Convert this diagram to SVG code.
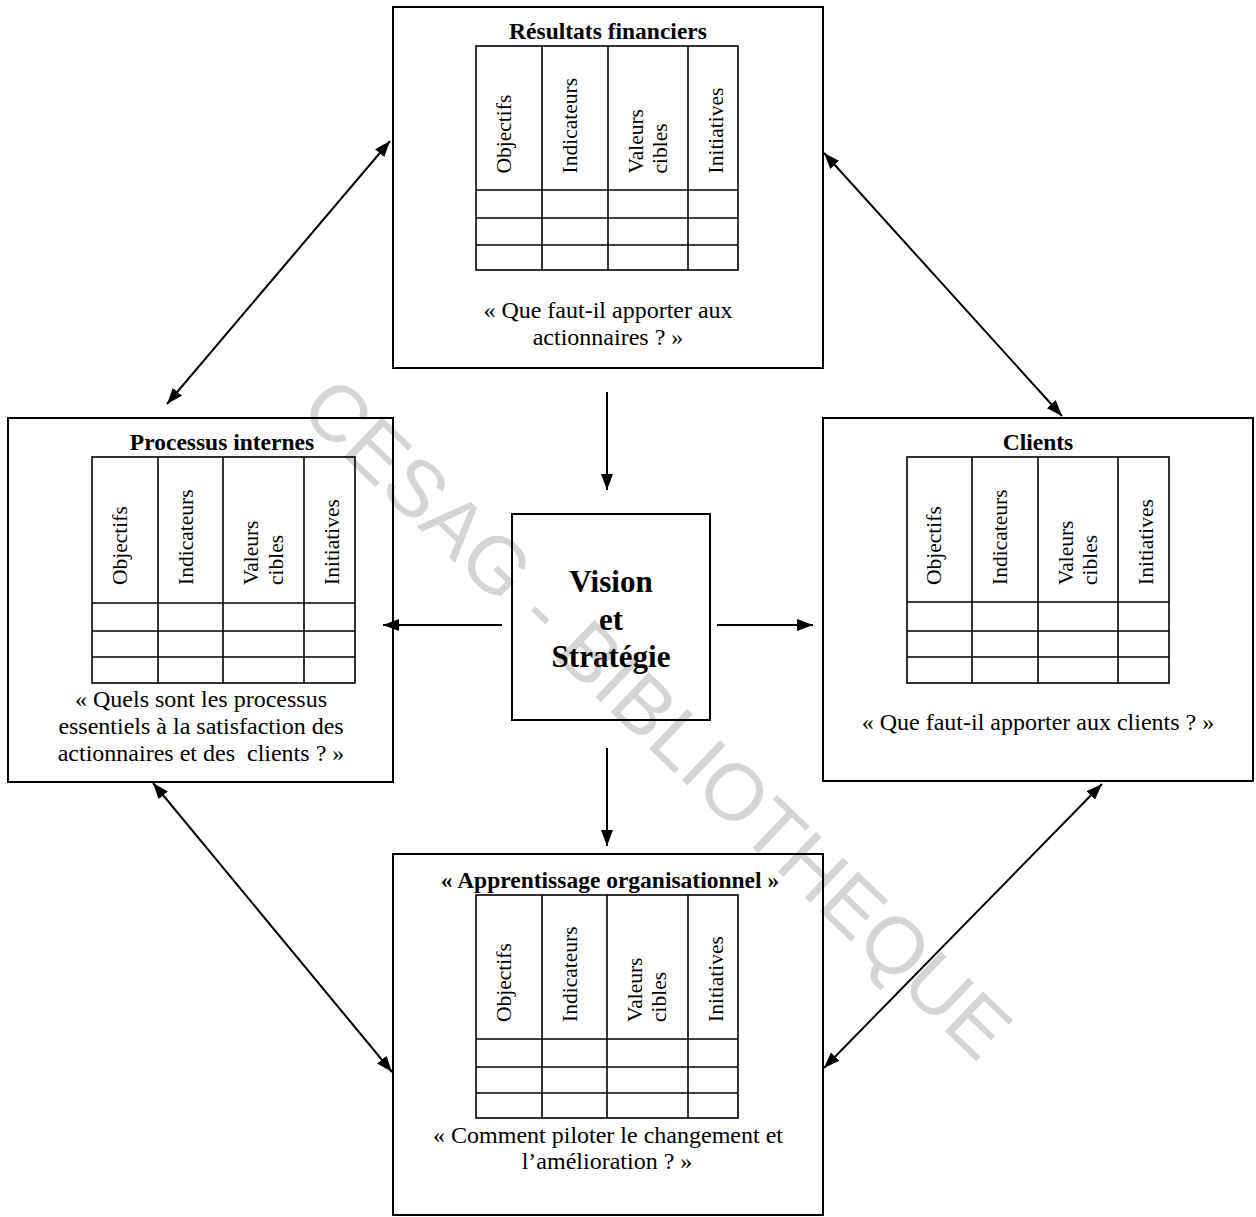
<svg xmlns="http://www.w3.org/2000/svg" width="1256" height="1217" viewBox="0 0 1256 1217">
<style>
.box{fill:none;stroke:#000;stroke-width:2}
.tbl rect,.tbl line{fill:none;stroke:#000;stroke-width:1.6}
.t{font-family:"Liberation Serif","Times New Roman",serif;fill:#000}
.title{font-weight:bold;font-size:23.5px;text-anchor:middle}
.q{font-size:24px;text-anchor:middle}
.lbl{font-size:21.5px}
.vis{font-weight:bold;font-size:31px;text-anchor:middle}
.wm{font-family:"Liberation Sans",Arial,sans-serif;font-size:80px;fill:#d4d4d4}
#connectors line{stroke:#000;stroke-width:2;fill:none}
.one{marker-end:url(#ah)}
.two{marker-start:url(#ah);marker-end:url(#ah)}
</style>
<defs>
<marker id="ah" viewBox="0 0 16 12" refX="16" refY="6" markerWidth="16" markerHeight="12" markerUnits="userSpaceOnUse" orient="auto-start-reverse">
<path d="M0,0 L16,6 L0,12 z" fill="#000"/>
</marker>
</defs>
<rect x="0" y="0" width="1256" height="1217" fill="#fff"/>
<text class="wm" transform="translate(297.5,412.6) rotate(43.7)">CESAG - BIBLIOTHEQUE</text>

<g id="node-financier">
<rect class="box" x="393" y="7" width="430" height="361"/>
<text class="t title" x="608" y="39">Résultats financiers</text>
<g class="tbl" transform="translate(476,46)">
<rect x="0" y="0" width="262" height="224"/>
<line x1="66" y1="0" x2="66" y2="224"/><line x1="132" y1="0" x2="132" y2="224"/><line x1="212" y1="0" x2="212" y2="224"/>
<line x1="0" y1="144" x2="262" y2="144"/><line x1="0" y1="172" x2="262" y2="172"/><line x1="0" y1="199" x2="262" y2="199"/>
<text class="t lbl" transform="translate(34.5,127.5) rotate(-90)">Objectifs</text>
<text class="t lbl" transform="translate(101,127.5) rotate(-90)">Indicateurs</text>
<text class="t lbl" transform="translate(166.5,127.5) rotate(-90)">Valeurs</text>
<text class="t lbl" transform="translate(190.5,127.5) rotate(-90)">cibles</text>
<text class="t lbl" transform="translate(247,127.5) rotate(-90)">Initiatives</text>
</g>
<text class="t q" x="608" y="318">« Que faut-il apporter aux</text>
<text class="t q" x="608" y="345">actionnaires ? »</text>
</g>

<g id="node-processus">
<rect class="box" x="8" y="418" width="385" height="364"/>
<text class="t title" x="222" y="450">Processus internes</text>
<g class="tbl" transform="translate(92,457)">
<rect x="0" y="0" width="263" height="226"/>
<line x1="66" y1="0" x2="66" y2="226"/><line x1="131" y1="0" x2="131" y2="226"/><line x1="212" y1="0" x2="212" y2="226"/>
<line x1="0" y1="146" x2="263" y2="146"/><line x1="0" y1="174" x2="263" y2="174"/><line x1="0" y1="200" x2="263" y2="200"/>
<text class="t lbl" transform="translate(35,128) rotate(-90)">Objectifs</text>
<text class="t lbl" transform="translate(101,128) rotate(-90)">Indicateurs</text>
<text class="t lbl" transform="translate(166,128) rotate(-90)">Valeurs</text>
<text class="t lbl" transform="translate(191,128) rotate(-90)">cibles</text>
<text class="t lbl" transform="translate(247,128) rotate(-90)">Initiatives</text>
</g>
<text class="t q" x="201" y="707">« Quels sont les processus</text>
<text class="t q" x="201" y="734">essentiels à la satisfaction des</text>
<text class="t q" x="201" y="761" xml:space="preserve">actionnaires et des  clients ? »</text>
</g>

<g id="node-clients">
<rect class="box" x="823" y="418" width="430" height="363"/>
<text class="t title" x="1038" y="450">Clients</text>
<g class="tbl" transform="translate(907,457)">
<rect x="0" y="0" width="262" height="226"/>
<line x1="65" y1="0" x2="65" y2="226"/><line x1="131" y1="0" x2="131" y2="226"/><line x1="211" y1="0" x2="211" y2="226"/>
<line x1="0" y1="145" x2="262" y2="145"/><line x1="0" y1="174" x2="262" y2="174"/><line x1="0" y1="200" x2="262" y2="200"/>
<text class="t lbl" transform="translate(34,128) rotate(-90)">Objectifs</text>
<text class="t lbl" transform="translate(100,128) rotate(-90)">Indicateurs</text>
<text class="t lbl" transform="translate(166,128) rotate(-90)">Valeurs</text>
<text class="t lbl" transform="translate(190,128) rotate(-90)">cibles</text>
<text class="t lbl" transform="translate(246,128) rotate(-90)">Initiatives</text>
</g>
<text class="t q" x="1038" y="730">« Que faut-il apporter aux clients ? »</text>
</g>

<g id="node-apprentissage">
<rect class="box" x="393" y="854" width="430" height="361"/>
<text class="t title" x="610" y="888">« Apprentissage organisationnel »</text>
<g class="tbl" transform="translate(476,895)">
<rect x="0" y="0" width="262" height="223"/>
<line x1="66" y1="0" x2="66" y2="223"/><line x1="131" y1="0" x2="131" y2="223"/><line x1="212" y1="0" x2="212" y2="223"/>
<line x1="0" y1="144" x2="262" y2="144"/><line x1="0" y1="172" x2="262" y2="172"/><line x1="0" y1="198" x2="262" y2="198"/>
<text class="t lbl" transform="translate(35,127) rotate(-90)">Objectifs</text>
<text class="t lbl" transform="translate(101,127) rotate(-90)">Indicateurs</text>
<text class="t lbl" transform="translate(166,127) rotate(-90)">Valeurs</text>
<text class="t lbl" transform="translate(190,127) rotate(-90)">cibles</text>
<text class="t lbl" transform="translate(247,127) rotate(-90)">Initiatives</text>
</g>
<text class="t q" x="608" y="1143">« Comment piloter le changement et</text>
<text class="t q" x="607" y="1169">l’amélioration ? »</text>
</g>

<g id="node-vision">
<rect class="box" x="512" y="514" width="198" height="206"/>
<text class="t vis" x="611" y="592">Vision</text>
<text class="t vis" x="611" y="630">et</text>
<text class="t vis" x="611" y="667">Stratégie</text>
</g>

<g id="connectors">
<line class="one" x1="607" y1="392" x2="607" y2="490"/>
<line class="one" x1="502" y1="625" x2="383" y2="625"/>
<line class="one" x1="717" y1="625" x2="813" y2="625"/>
<line class="one" x1="607" y1="748" x2="607" y2="846"/>
<line class="two" x1="167" y1="404" x2="390" y2="141"/>
<line class="two" x1="824" y1="153" x2="1062" y2="416"/>
<line class="two" x1="153" y1="783" x2="392" y2="1072"/>
<line class="two" x1="1102" y1="784" x2="824" y2="1068"/>
</g>
</svg>
